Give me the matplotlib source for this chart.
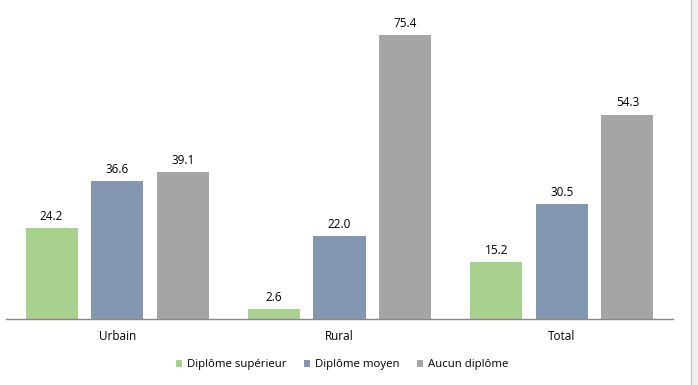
import matplotlib
matplotlib.use("Agg")
import matplotlib.pyplot as plt
import numpy as np
from matplotlib.patches import Rectangle

categories = ["Urbain", "Rural", "Total"]
series_names = ["Diplôme supérieur", "Diplôme moyen", "Aucun diplôme"]
superieur = [24.2, 2.6, 15.2]
moyen = [36.6, 22.0, 30.5]
aucun = [39.1, 75.4, 54.3]
colors = ["#A9D18E", "#8497B0", "#A5A5A5"]

plt.rcParams['font.family'] = ['Open Sans', 'DejaVu Sans']

W, H = 698, 385
fig = plt.figure(figsize=(W/100, H/100), dpi=100)
fig.patch.set_facecolor("white")

ax_left, ax_right = 6, 673
ax_bottom_px, ax_top_px = 319, 18
ax = fig.add_axes([ax_left/W, (H-ax_bottom_px)/H, (ax_right-ax_left)/W, (ax_bottom_px-ax_top_px)/H])

x = np.arange(len(categories))
width = 0.234
pitch = 0.295
for i, (vals, name, c) in enumerate(zip([superieur, moyen, aucun], series_names, colors)):
    pos = x + (i-1)*pitch
    bars = ax.bar(pos, vals, width, color=c, label=name)
    for b, v in zip(bars, vals):
        ax.annotate(f"{v:.1f}", (b.get_x()+b.get_width()/2, v), xytext=(0, 8.5),
                    textcoords="offset points", ha="center", va="center",
                    fontsize=8.5, color="#000000")

ax.set_xlim(-0.5, 2.5)
ax.set_ylim(0, 80)
ax.set_yticks([])
ax.set_xticks(x)
ax.set_xticklabels(categories, fontsize=8.5)
ax.tick_params(axis='x', length=0, pad=8)
for s in ["top", "right", "left"]:
    ax.spines[s].set_visible(False)
ax.spines["bottom"].set_color("#888888")
ax.spines["bottom"].set_linewidth(1)

handles, labels = ax.get_legend_handles_labels()
leg = fig.legend(handles, labels, loc="center", bbox_to_anchor=(342/W, (H-365)/H),
                 ncol=3, frameon=False, fontsize=8.2, handlelength=0.6, handleheight=0.6,
                 handletextpad=0.4, columnspacing=1.5)

# right-side window edge
fig.add_artist(Rectangle((691/W, 0), 7/W, 1, transform=fig.transFigure,
                         facecolor="#F0F0F0", edgecolor="none"))
fig.add_artist(plt.Line2D([690.5/W, 690.5/W], [0, 1], transform=fig.transFigure,
                          color="#C8C8C8", linewidth=1))

fig.savefig("out.png", dpi=100)
